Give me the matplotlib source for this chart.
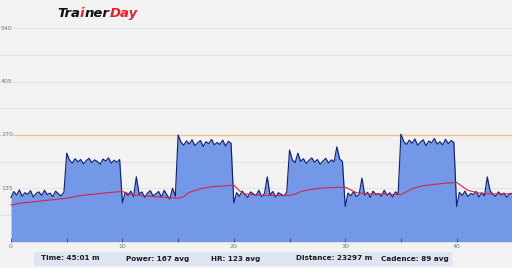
import numpy as np
import matplotlib
matplotlib.use("Agg")
import matplotlib.pyplot as plt

# power, one value every 15 s (minutes 0..45)
power = [
    112, 127, 118, 131, 115, 124, 120, 129, 113, 122, 126, 117, 130, 119, 123, 114, 128, 121, 116, 125,
    224, 206, 199, 210, 202, 208, 197, 205, 211, 200, 207, 203, 196, 209, 204, 212, 199, 206, 201, 208,
    98, 125, 117, 128, 114, 164, 120, 126, 112, 123, 129, 116, 121, 127, 113, 130, 118, 108, 135, 115,
    270, 252, 244, 255, 247, 258, 243, 250, 256, 241, 253, 248, 259, 245, 251, 246, 257, 242, 254, 249,
    98, 124, 115, 128, 119, 112, 126, 121, 117, 130, 114, 122, 164, 118, 127, 113, 124, 120, 116, 125,
    232, 207, 200, 224, 203, 210, 198, 206, 212, 201, 208, 196, 204, 211, 199, 207, 202, 240, 209, 203,
    89, 123, 116, 127, 114, 120, 161, 118, 125, 112, 128, 119, 122, 115, 130, 117, 124, 113, 126, 121,
    272, 254, 246, 257, 249, 260, 244, 252, 258, 243, 255, 250, 261, 247, 253, 245, 259, 248, 256, 251,
    89, 125, 117, 128, 114, 122, 119, 127, 113, 124, 116, 164, 129, 120, 115, 126, 118, 123, 112, 122,
    122,
]
power_t = [i * 0.25 for i in range(len(power))]

hr_t = [0, 1, 2, 3, 4, 5, 6, 7, 8, 9, 10, 10.5, 11, 12, 13, 14, 15, 15.5, 16, 17, 18, 19, 20,
        20.5, 21, 22, 23, 24, 25, 25.5, 26, 27, 28, 29, 30, 30.5, 31, 32, 33, 34, 35, 35.5, 36,
        37, 38, 39, 40, 40.5, 41, 42, 43, 44, 45]
hr = [93, 98, 101, 104, 107, 110, 116, 119, 122, 125, 127, 122, 118, 116, 114, 112, 110, 114, 125,
      134, 139, 141, 143, 129, 121, 118, 117, 117, 117, 120, 127, 133, 136, 137, 138, 131, 124, 121,
      121, 120, 119, 126, 134, 142, 145, 148, 150, 140, 130, 123, 121, 121, 121]

ftp = 270
ytick_vals = [135, 270, 405, 540]
xtick_vals = [0, 10, 20, 30, 40]
stats = ["Time: 45:01 m", "Power: 167 avg", "HR: 123 avg", "Distance: 23297 m", "Cadence: 89 avg"]
stats_x = [70, 158, 236, 334, 415]

bg = "#f2f2f2"
fig = plt.figure(figsize=(5.12, 2.68), dpi=100, facecolor=bg)
ax = fig.add_axes([0, 1 - 241.7 / 268, 1, 241.7 / 268])
ax.set_facecolor(bg)
ax.set_xlim(-0.99, 44.97)
ax.set_ylim(0, 611.6)

for k in range(1, 9):
    ax.axhline(67.5 * k, color="#e4e4e4", lw=0.8, zorder=0)

ax.fill_between(power_t, power, color="#7398e8", lw=0, zorder=1)
ax.plot(power_t, power, color="#15226e", lw=0.85, zorder=2)
ax.plot(hr_t, hr, color="#d0284a", lw=0.8, zorder=3)
ax.axhline(ftp, color="#f3c173", lw=0.9, zorder=1)

for v in ytick_vals:
    ax.text(-0.9, v, str(v), fontsize=4.5, color="#777777", va="center", ha="left",
            bbox=dict(facecolor=bg, edgecolor="none", pad=0.3), zorder=4)

for s in ax.spines.values():
    s.set_visible(False)
ax.set_yticks([])
ax.set_xticks(xtick_vals)
ax.set_xticklabels([str(v) for v in xtick_vals])
ax.set_xticks([5, 15, 25, 35], minor=True)
ax.tick_params(axis="x", which="both", direction="in", length=3, width=0.6, color="#445",
               labelsize=4.5, labelcolor="#777777", pad=1.5)

# stats bar
fig.patches.append(plt.Rectangle((34 / 512, 1 - 266 / 268), (452 - 34) / 512, 14 / 268,
                                 transform=fig.transFigure, facecolor="#dfe4f1", edgecolor="none"))
for s, x in zip(stats, stats_x):
    fig.text(x / 512, 1 - 258.5 / 268, s, fontsize=5.2, fontweight="heavy", color="#1a1a1a",
             ha="center", va="center")

# logo
logo_kw = dict(fontsize=9.5, fontweight="heavy", style="italic")
t1 = fig.text(57 / 512, 1 - 17 / 268, "Tra", color="#111111", **logo_kw)
t2 = ax.annotate("i", xy=(1, 0), xycoords=t1, color="#e0202a", va="bottom",
                 annotation_clip=False, **logo_kw)
t3 = ax.annotate("ner", xy=(1, 0), xycoords=t2, color="#111111", va="bottom",
                 annotation_clip=False, **logo_kw)
ax.annotate("Day", xy=(1, 0), xycoords=t3, color="#e0202a", va="bottom",
            annotation_clip=False, **logo_kw)

fig.savefig("out.png", dpi=100, facecolor=bg)
